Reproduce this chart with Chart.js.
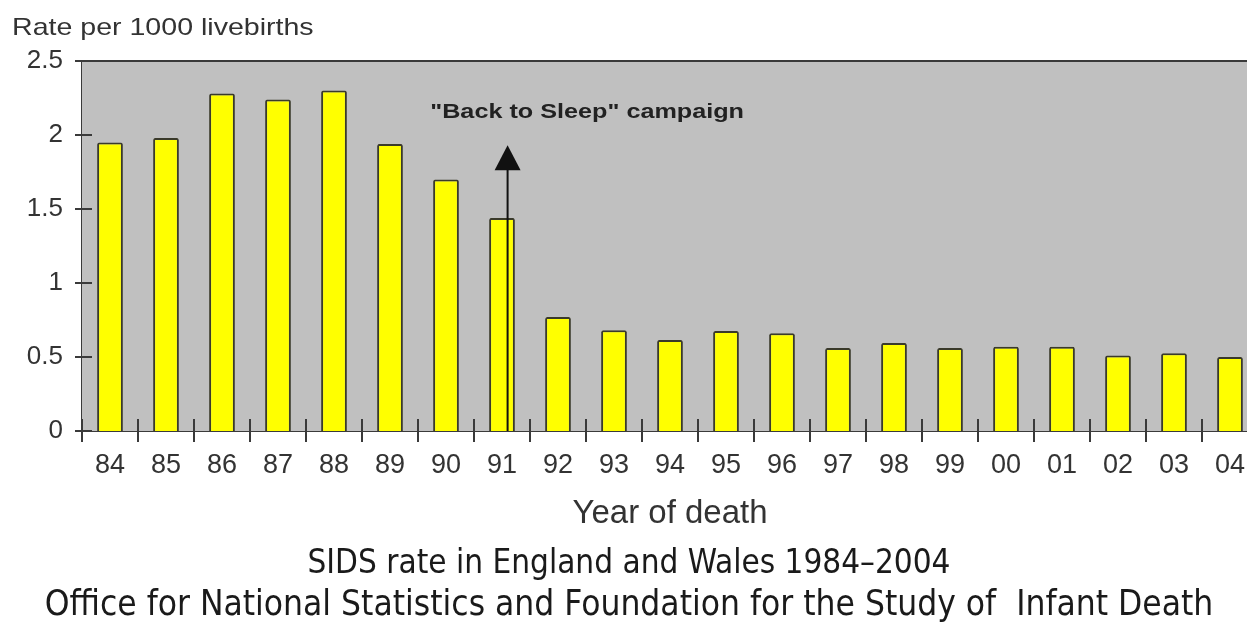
<!DOCTYPE html>
<html lang="en">
<head>
  <meta charset="UTF-8">
  <title>SIDS rate in England and Wales 1984-2004</title>
  <script src="https://cdn.jsdelivr.net/npm/chart.js"></script>
  <style>
    body { margin: 0; background: #fff; overflow: hidden; }
    #wrap { width: 1262px; height: 623px; }
  </style>
</head>
<body>
  <div id="wrap"><canvas id="sidsChart"></canvas></div>

  <script>
    // values
    const years = ['84', '85', '86', '87', '88', '89', '90', '91', '92', '93', '94',
                   '95', '96', '97', '98', '99', '00', '01', '02', '03', '04'];
    const rates = [1.95, 1.98, 2.28, 2.24, 2.30, 1.94, 1.70, 1.44, 0.77, 0.68, 0.615,
                   0.675, 0.66, 0.56, 0.595, 0.56, 0.57, 0.57, 0.51, 0.525, 0.50];
    const yTicks = [0, 0.5, 1, 1.5, 2, 2.5];

    // "Back to Sleep" arrow: sits just right of the 91 bar centre, points up to ~1.93
    const campaignIndex = 7.1;
    const campaignTip = 1.93;
    const campaignText = '"Back to Sleep" campaign';

    const textColor = '#333';
    const captionFont = '"DejaVu Sans Condensed", "DejaVu Sans", sans-serif';

    // grey plot background, top frame line, crossing tick marks, arrow and labels
    const decorations = {
      id: 'decorations',
      beforeDatasetsDraw(chart) {
        const { ctx, chartArea: a } = chart;
        ctx.save();
        ctx.fillStyle = '#c0c0c0';
        ctx.fillRect(a.left, a.top, a.right - a.left, a.bottom - a.top);
        ctx.restore();
      },
      afterDatasetsDraw(chart) {
        const { ctx, chartArea: a, scales: { x, y } } = chart;
        ctx.save();
        ctx.strokeStyle = '#3a3a3a';
        ctx.lineWidth = 2;

        // top frame
        ctx.beginPath();
        ctx.moveTo(a.left, a.top);
        ctx.lineTo(a.right, a.top);
        ctx.stroke();

        // y ticks cross the axis
        yTicks.forEach(v => {
          const py = y.getPixelForValue(v);
          ctx.beginPath();
          ctx.moveTo(a.left - 7, py);
          ctx.lineTo(a.left + 10, py);
          ctx.stroke();
        });

        // x ticks at category boundaries, crossing the axis
        for (let i = 0; i <= years.length; i++) {
          const px = x.getPixelForValue(i - 0.5);
          ctx.beginPath();
          ctx.moveTo(px, a.bottom - 12);
          ctx.lineTo(px, a.bottom + 11);
          ctx.stroke();
        }

        // campaign arrow
        const ax = x.getPixelForValue(campaignIndex);
        const tip = y.getPixelForValue(campaignTip);
        ctx.strokeStyle = '#111';
        ctx.fillStyle = '#111';
        ctx.beginPath();
        ctx.moveTo(ax, a.bottom);
        ctx.lineTo(ax, tip + 20);
        ctx.stroke();
        ctx.beginPath();
        ctx.moveTo(ax, tip);
        ctx.lineTo(ax - 13, tip + 25);
        ctx.lineTo(ax + 13, tip + 25);
        ctx.closePath();
        ctx.fill();

        // campaign label, slightly stretched like the original
        ctx.fillStyle = '#222';
        ctx.font = 'bold 21px "Liberation Sans", Arial, sans-serif';
        ctx.textAlign = 'center';
        ctx.textBaseline = 'middle';
        ctx.translate(x.getPixelForValue(8.52), y.getPixelForValue(2.155));
        ctx.scale(1.2, 1);
        ctx.fillText(campaignText, 0, 0);
        ctx.restore();

        // horizontal y-axis caption at top left
        ctx.save();
        ctx.fillStyle = textColor;
        ctx.font = '24px "Liberation Sans", Arial, sans-serif';
        ctx.textAlign = 'left';
        ctx.textBaseline = 'middle';
        ctx.translate(12, 28);
        ctx.scale(1.19, 1);
        ctx.fillText('Rate per 1000 livebirths', 0, 0);
        ctx.restore();
      }
    };

    const ctx = document.getElementById('sidsChart').getContext('2d');
    new Chart(ctx, {
      type: 'bar',
      data: {
        labels: years,
        datasets: [{
          label: 'SIDS rate',
          data: rates,
          backgroundColor: '#ffff00',
          borderColor: '#3a3a2a',
          borderWidth: 2,
          borderRadius: 2,
          categoryPercentage: 1,
          barPercentage: 0.46
        }]
      },
      options: {
        responsive: true,
        maintainAspectRatio: false,
        animation: false,
        layout: { padding: { top: 61, right: 4, bottom: 0, left: 0 } },
        plugins: {
          legend: { display: false },
          tooltip: { enabled: false },
          subtitle: {
            display: true,
            position: 'bottom',
            text: 'SIDS rate in England and Wales 1984\u20132004',
            color: '#1a1a1a',
            font: { family: captionFont, size: 33, lineHeight: 1 },
            padding: { top: 13, bottom: 0 }
          },
          title: {
            display: true,
            position: 'bottom',
            text: 'Office for National Statistics and Foundation for the Study of  Infant Death',
            color: '#1a1a1a',
            font: { family: captionFont, size: 35, weight: 'normal', lineHeight: 1 },
            padding: { top: 7, bottom: 0 }
          }
        },
        scales: {
          x: {
            offset: true,
            grid: { display: false },
            border: { display: true, color: '#3a3a3a', width: 2 },
            ticks: {
              color: textColor,
              font: { family: '"Liberation Sans", Arial, sans-serif', size: 27 },
              padding: 10,
              maxRotation: 0,
              autoSkip: false
            },
            title: {
              display: true,
              text: 'Year of death',
              color: textColor,
              font: { family: '"Liberation Sans", Arial, sans-serif', size: 33 },
              padding: { top: 0, bottom: 1 }
            },
            afterFit(scale) { scale.height = 104; }
          },
          y: {
            min: 0,
            max: 2.5,
            grid: { display: false },
            border: { display: true, color: '#3a3a3a', width: 2 },
            afterBuildTicks(scale) { scale.ticks = yTicks.map(v => ({ value: v })); },
            ticks: {
              color: textColor,
              font: { family: '"Liberation Sans", Arial, sans-serif', size: 26 },
              padding: 11,
              callback: v => String(v)
            },
            afterFit(scale) { scale.width = 82; }
          }
        }
      },
      plugins: [decorations]
    });
  </script>
</body>
</html>
